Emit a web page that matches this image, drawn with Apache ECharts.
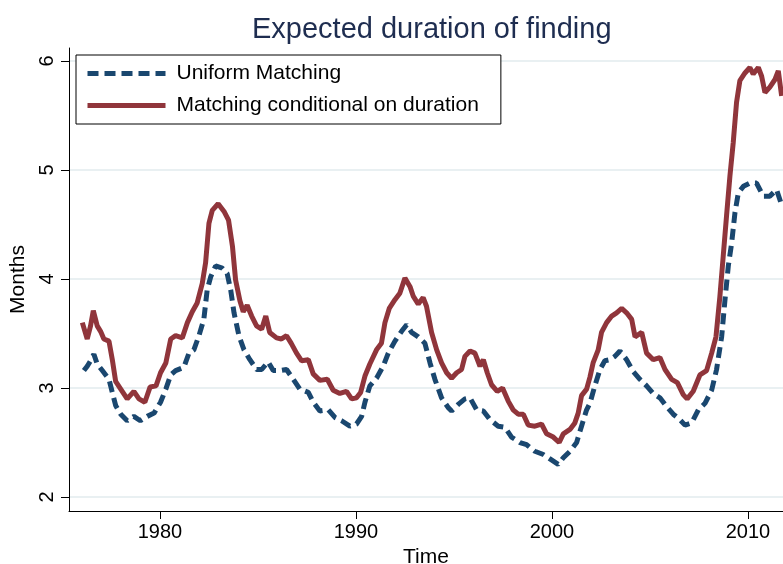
<!DOCTYPE html>
<html>
<head>
<meta charset="utf-8">
<script src="https://cdn.jsdelivr.net/npm/echarts@6/dist/echarts.min.js"></script>
<style>
  html, body { margin: 0; padding: 0; background: #fff; }
  #chart { width: 783px; height: 564px; }
</style>
</head>
<body>
<div id="chart"></div>
<script>
// 数据：近似值（年份, 月数）
const uniformYears = [1976.12, 1976.29, 1976.46, 1976.63, 1976.8, 1977.06, 1977.4, 1977.57, 1977.74, 1978.0, 1978.33, 1978.67, 1979.0, 1979.35, 1979.7,
  1980.03, 1980.3, 1980.55, 1980.8, 1981.22, 1981.48, 1981.73, 1981.99, 1982.24, 1982.41, 1982.59, 1982.84, 1983.18, 1983.43, 1983.61, 1983.78,
  1984.03, 1984.29, 1984.59, 1984.93, 1985.19, 1985.52, 1985.78, 1986.12, 1986.46, 1986.8, 1987.14, 1987.57, 1987.82, 1988.16, 1988.59, 1988.93,
  1989.27, 1989.69, 1990.03, 1990.29, 1990.46, 1990.71, 1991.05, 1991.39, 1991.65, 1991.99, 1992.33, 1992.59, 1992.84, 1993.18, 1993.52, 1993.78,
  1994.03, 1994.37, 1994.71, 1994.88, 1995.22, 1995.56, 1995.82, 1996.16, 1996.5, 1996.84, 1997.26, 1997.6, 1997.94, 1998.37, 1998.71, 1999.13,
  1999.56, 1999.9, 2000.32, 2000.58, 2000.92, 2001.26, 2001.51, 2001.77, 2001.94, 2002.19, 2002.45, 2002.7, 2002.96, 2003.21, 2003.47, 2003.81,
  2004.15, 2004.49, 2004.83, 2005.17, 2005.51, 2005.85, 2006.19, 2006.53, 2006.79, 2007.13, 2007.47, 2007.81, 2008.15, 2008.4, 2008.66, 2008.83,
  2009.0, 2009.17, 2009.34, 2009.51, 2009.77, 2010.1, 2010.44, 2010.78, 2011.12, 2011.46, 2011.72];
const uniformValues = [3.16, 3.20, 3.25, 3.31, 3.22, 3.16, 3.08, 2.96, 2.84, 2.76, 2.70, 2.74, 2.70, 2.74, 2.77,
  2.87, 2.99, 3.12, 3.16, 3.19, 3.32, 3.35, 3.48, 3.63, 3.90, 4.02, 4.12, 4.10, 4.05, 3.90, 3.69,
  3.48, 3.35, 3.26, 3.17, 3.17, 3.24, 3.16, 3.16, 3.17, 3.08, 2.99, 2.96, 2.87, 2.79, 2.80, 2.73,
  2.70, 2.65, 2.67, 2.74, 2.87, 3.02, 3.09, 3.20, 3.32, 3.43, 3.52, 3.58, 3.51, 3.47, 3.41, 3.23,
  3.08, 2.91, 2.82, 2.79, 2.85, 2.90, 2.91, 2.80, 2.79, 2.71, 2.65, 2.64, 2.55, 2.50, 2.48, 2.42,
  2.39, 2.35, 2.30, 2.36, 2.42, 2.50, 2.65, 2.80, 2.86, 3.02, 3.17, 3.25, 3.26, 3.29, 3.34, 3.26,
  3.15, 3.08, 3.02, 2.95, 2.91, 2.83, 2.76, 2.71, 2.66, 2.68, 2.80, 2.86, 2.98, 3.17, 3.47, 3.81,
  4.12, 4.33, 4.61, 4.79, 4.85, 4.88, 4.88, 4.76, 4.76, 4.82, 4.68];

const conditionalYears = [1976.04, 1976.29, 1976.46, 1976.6, 1976.8, 1976.97, 1977.14, 1977.4, 1977.57, 1977.74, 1978.0, 1978.33, 1978.67, 1978.93, 1979.23,
  1979.5, 1979.8, 1980.03, 1980.3, 1980.55, 1980.8, 1981.14, 1981.4, 1981.65, 1981.9, 1982.16, 1982.33, 1982.5, 1982.67, 1982.97, 1983.27,
  1983.5, 1983.7, 1983.86, 1984.08, 1984.25, 1984.45, 1984.68, 1984.93, 1985.19, 1985.4, 1985.6, 1985.95, 1986.2, 1986.46, 1986.7, 1986.97,
  1987.23, 1987.57, 1987.82, 1988.16, 1988.54, 1988.84, 1989.18, 1989.52, 1989.78, 1990.03, 1990.24, 1990.46, 1990.71, 1991.05, 1991.3, 1991.48,
  1991.7, 1991.99, 1992.24, 1992.5, 1992.76, 1992.93, 1993.18, 1993.43, 1993.6, 1993.86, 1994.12, 1994.37, 1994.63, 1994.88, 1995.14, 1995.39,
  1995.56, 1995.82, 1996.07, 1996.33, 1996.5, 1996.7, 1996.92, 1997.21, 1997.48, 1997.77, 1998.02, 1998.28, 1998.54, 1998.79, 1999.13, 1999.47,
  1999.73, 2000.07, 2000.37, 2000.58, 2000.92, 2001.17, 2001.34, 2001.51, 2001.77, 2001.94, 2002.1, 2002.36, 2002.53, 2002.79, 2003.05, 2003.3,
  2003.56, 2003.81, 2004.07, 2004.24, 2004.58, 2004.83, 2005.17, 2005.51, 2005.77, 2006.11, 2006.4, 2006.7, 2006.9, 2007.21, 2007.55, 2007.89,
  2008.15, 2008.37, 2008.57, 2008.74, 2008.91, 2009.08, 2009.25, 2009.42, 2009.59, 2009.85, 2010.1, 2010.27, 2010.53, 2010.7, 2010.87, 2011.12,
  2011.38, 2011.55, 2011.72];
const conditionalValues = [3.60, 3.45, 3.57, 3.71, 3.57, 3.52, 3.45, 3.43, 3.26, 3.06, 2.99, 2.90, 2.97, 2.90, 2.87,
  3.01, 3.02, 3.14, 3.23, 3.45, 3.48, 3.46, 3.60, 3.70, 3.78, 3.96, 4.15, 4.51, 4.63, 4.69, 4.62,
  4.54, 4.30, 3.99, 3.80, 3.70, 3.76, 3.66, 3.57, 3.54, 3.66, 3.51, 3.46, 3.45, 3.48, 3.41, 3.32,
  3.25, 3.26, 3.13, 3.07, 3.08, 2.98, 2.95, 2.97, 2.90, 2.91, 2.96, 3.11, 3.22, 3.35, 3.41, 3.60,
  3.73, 3.81, 3.87, 4.01, 3.93, 3.84, 3.77, 3.83, 3.75, 3.51, 3.35, 3.23, 3.14, 3.09, 3.14, 3.17,
  3.29, 3.34, 3.32, 3.20, 3.26, 3.14, 3.03, 2.97, 3.00, 2.88, 2.80, 2.76, 2.76, 2.66, 2.65, 2.67,
  2.58, 2.55, 2.50, 2.58, 2.62, 2.68, 2.77, 2.93, 2.99, 3.10, 3.23, 3.35, 3.51, 3.60, 3.66, 3.69,
  3.73, 3.69, 3.63, 3.47, 3.51, 3.32, 3.26, 3.28, 3.17, 3.08, 3.05, 2.94, 2.90, 2.97, 3.12, 3.16,
  3.32, 3.47, 3.84, 4.21, 4.58, 4.94, 5.25, 5.62, 5.82, 5.89, 5.94, 5.88, 5.94, 5.86, 5.71, 5.76,
  5.83, 5.91, 5.68];

const xTicks = [1980, 1990, 2000, 2010];
const yTicks = [2, 3, 4, 5, 6];

const FONT = '"Liberation Sans", Arial, Helvetica, sans-serif';
const NAVY = '#1a476f';
const MAROON = '#90353b';

const chart = echarts.init(document.getElementById('chart'));

const option = {
  backgroundColor: '#ffffff',
  animation: false,
  title: {
    text: 'Expected duration of finding',
    left: 247,
    top: 10,
    textStyle: { fontFamily: FONT, fontSize: 29, fontWeight: 'normal', color: '#1e2d50' },
  },
  legend: {
    orient: 'vertical',
    left: 76,
    top: 55,
    padding: [8, 22, 8, 9],
    itemGap: 11,
    itemWidth: 78,
    itemHeight: 16,
    borderColor: '#000',
    borderWidth: 1,
    borderRadius: 0,
    backgroundColor: '#fff',
    itemStyle: { opacity: 0 },
    lineStyle: { width: 5 },
    textStyle: { fontFamily: FONT, fontSize: 21, color: '#000', padding: [0, 0, 0, 6] },
    data: ['Uniform Matching', 'Matching conditional on duration'],
  },
  // v6 默认会把轴标签收进容器，这里关掉，按像素摆
  grid: { left: 69, right: 0, top: 48, bottom: 53, outerBoundsMode: 'none' },
  xAxis: {
    type: 'value',
    min: 1975.36,
    max: 2011.79,
    name: 'Time',
    nameLocation: 'middle',
    nameGap: 32,
    nameTextStyle: { fontFamily: FONT, fontSize: 21, color: '#000' },
    axisLine: { show: true, lineStyle: { color: '#000', width: 1 } },
    axisTick: { show: true, length: 8, customValues: xTicks, lineStyle: { color: '#000' } },
    axisLabel: {
      customValues: xTicks, fontFamily: FONT, fontSize: 20, color: '#000', margin: 11,
      formatter: (v) => String(v),
    },
    splitLine: { show: false },
  },
  yAxis: {
    type: 'value',
    min: 1.872,
    max: 6.119,
    name: 'Months',
    nameLocation: 'middle',
    nameGap: 34,
    nameRotate: 90,
    nameTextStyle: { fontFamily: FONT, fontSize: 21, color: '#000' },
    axisLine: { show: true, lineStyle: { color: '#000', width: 1 } },
    axisTick: { show: true, length: 8, customValues: yTicks, lineStyle: { color: '#000' } },
    axisLabel: { customValues: yTicks, rotate: 90, fontFamily: FONT, fontSize: 20, color: '#000', margin: 12 },
    splitLine: { show: true, lineStyle: { color: '#e9f0f2', width: 2 } },
  },
  series: [
    {
      name: 'Uniform Matching',
      type: 'line',
      symbol: 'none',
      data: uniformYears.map((y, i) => [y, uniformValues[i]]),
      lineStyle: { color: NAVY, width: 5, type: [11, 6] },
      itemStyle: { color: NAVY },
      z: 3,
    },
    {
      name: 'Matching conditional on duration',
      type: 'line',
      symbol: 'none',
      data: conditionalYears.map((y, i) => [y, conditionalValues[i]]),
      lineStyle: { color: MAROON, width: 5 },
      itemStyle: { color: MAROON },
      z: 2,
    },
  ],
};

chart.setOption(option);
</script>
</body>
</html>
